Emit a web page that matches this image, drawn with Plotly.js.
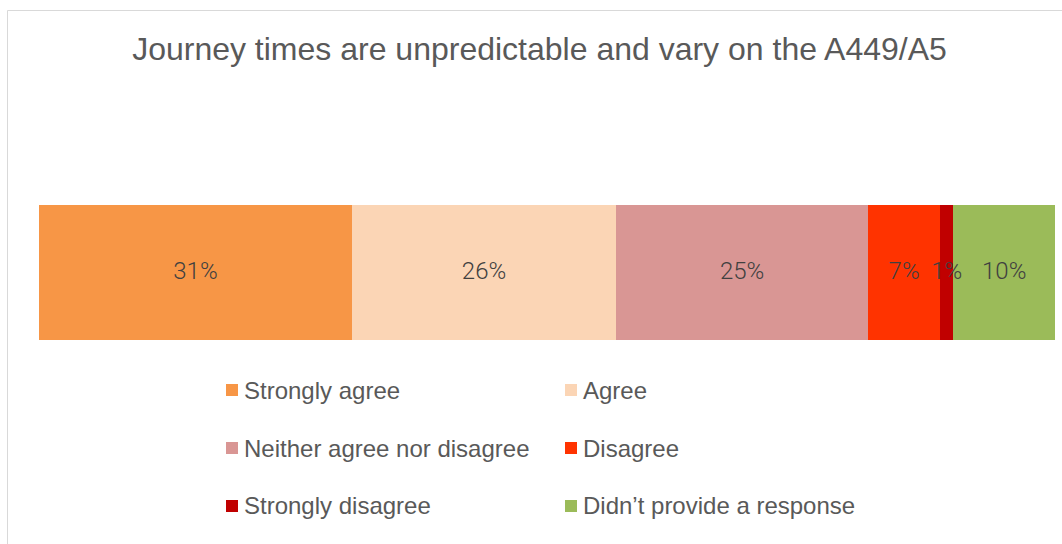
<!DOCTYPE html>
<html>
<head>
<meta charset="utf-8">
<script src="https://cdn.plot.ly/plotly-3.0.1.min.js"></script>
<style>
  html, body { margin: 0; padding: 0; background: #ffffff; }
  #chart { width: 1062px; height: 544px; }
</style>
</head>
<body>
<div id="chart"></div>
<script>
// ---- Data ----
const categories = [
  'Strongly agree',
  'Agree',
  'Neither agree nor disagree',
  'Disagree',
  'Strongly disagree',
  'Didn\u2019t provide a response'
];
const values = [30.8, 26.0, 24.8, 7.1, 1.3, 10.0];
const colors = ['#F79646', '#FBD5B5', '#D99694', '#FF3300', '#C00000', '#9BBB59'];
const titleText = 'Journey times are unpredictable and vary on the A449/A5';

// ---- Geometry helpers (pixel -> paper) ----
const W = 1062, H = 544;
const M = { l: 39, r: 7, t: 205, b: 204 };
const PW = W - M.l - M.r, PH = H - M.t - M.b;
const px = x => (x - M.l) / PW;
const py = y => (H - M.b - y) / PH;

const traces = categories.map((name, i) => ({
  type: 'bar',
  orientation: 'h',
  name: name,
  y: [''],
  x: [values[i]],
  marker: { color: colors[i], line: { width: 0 } },
  hoverinfo: 'skip'
}));

// data labels drawn on top of all bars (centre of each segment)
let acc = 0;
const mids = values.map(v => { const m = acc + v / 2; acc += v; return m; });
traces.push({
  type: 'scatter',
  mode: 'text',
  x: mids,
  y: values.map(() => ''),
  text: values.map(v => Math.round(v) + '%'),
  textposition: 'middle center',
  textfont: { family: 'Roboto, sans-serif', size: 24, color: '#404040', weight: 300 },
  hoverinfo: 'skip',
  cliponaxis: false,
  showlegend: false
});

// custom legend: 2 columns x 3 rows
const colX = [226, 565];
const rowY = [390, 448, 506];
const shapes = [];
const annotations = [];
categories.forEach((name, i) => {
  const cx = colX[i % 2];
  const cy = rowY[Math.floor(i / 2)];
  shapes.push({
    type: 'rect', xref: 'paper', yref: 'paper',
    x0: px(cx), x1: px(cx + 12), y0: py(cy + 6), y1: py(cy - 6),
    fillcolor: colors[i], line: { width: 0 }
  });
  annotations.push({
    xref: 'paper', yref: 'paper',
    x: px(cx + 16), y: py(cy),
    xanchor: 'left', yanchor: 'middle',
    text: name, showarrow: false,
    font: { family: 'Liberation Sans, Arial, sans-serif', size: 24, color: '#595959' }
  });
});

// chart area border
shapes.push({
  type: 'rect', xref: 'paper', yref: 'paper',
  x0: px(7.5), x1: px(1100), y0: py(600), y1: py(10.5),
  line: { color: '#D9D9D9', width: 1 }, fillcolor: 'rgba(0,0,0,0)', layer: 'below'
});

const layout = {
  width: W, height: H,
  margin: M,
  paper_bgcolor: '#ffffff',
  plot_bgcolor: '#ffffff',
  barmode: 'stack',
  bargap: 0,
  showlegend: false,
  title: {
    text: titleText,
    x: 0.508, xanchor: 'center',
    y: 1 - 49 / H, yanchor: 'middle',
    font: { family: 'Liberation Sans, Arial, sans-serif', size: 32, color: '#595959' }
  },
  xaxis: { range: [0, 100], showgrid: false, zeroline: false, showticklabels: false, showline: false, fixedrange: true },
  yaxis: { type: 'category', range: [-0.5, 0.5], showgrid: false, zeroline: false, showticklabels: false, showline: false, fixedrange: true },
  shapes: shapes,
  annotations: annotations,
  hovermode: false
};

Plotly.newPlot('chart', traces, layout, { displayModeBar: false, staticPlot: true });
</script>
</body>
</html>
